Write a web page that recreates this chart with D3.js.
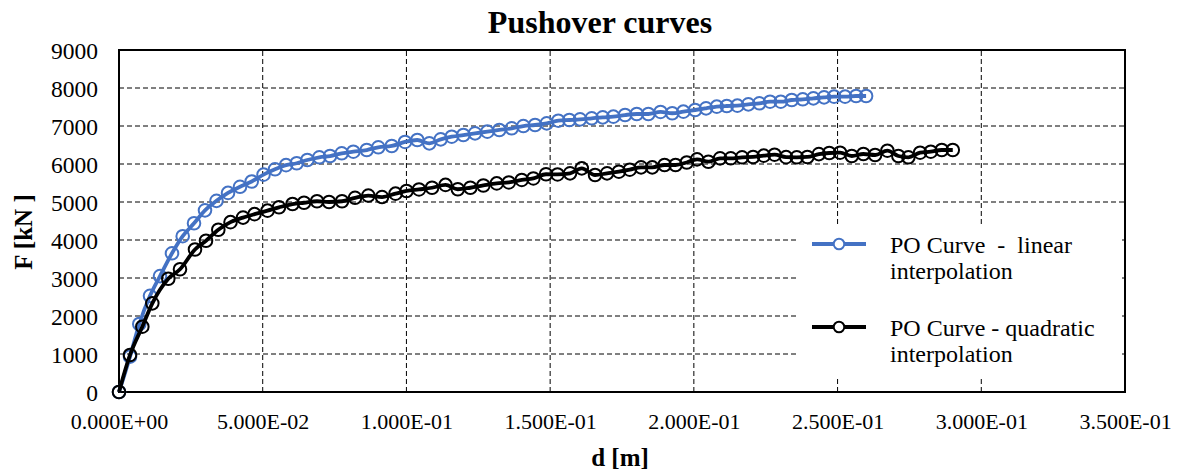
<!DOCTYPE html>
<html>
<head>
<meta charset="utf-8">
<script src="https://cdn.jsdelivr.net/npm/d3@7"></script>
<style>
  body { margin: 0; background: #fff; }
  text { font-family: "Liberation Serif", "Times New Roman", serif; fill: #000; }
</style>
</head>
<body>
<div id="chart"></div>
<script>
// displacement d [m] and force F [kN]
var linearD = [0, 0.00383, 0.00706, 0.01079, 0.01427, 0.01844, 0.02216, 0.02610, 0.02992, 0.03392,
  0.03793, 0.04210, 0.04617, 0.05028, 0.05428, 0.05811, 0.06183, 0.06552, 0.06969, 0.07342,
  0.07749, 0.08152, 0.08619, 0.09022, 0.09489, 0.09951, 0.10379, 0.10797, 0.11193, 0.11576,
  0.11980, 0.12387, 0.12815, 0.13232, 0.13664, 0.14068, 0.14475, 0.14882, 0.15285, 0.15668,
  0.16040, 0.16447, 0.16830, 0.17199, 0.17606, 0.18013, 0.18417, 0.18841, 0.19248, 0.19635,
  0.20042, 0.20424, 0.20797, 0.21145, 0.21514, 0.21896, 0.22279, 0.22651, 0.23024, 0.23406,
  0.23789, 0.24158, 0.24530, 0.24878, 0.25261, 0.25644, 0.25992];
var linearF = [0, 930, 1790, 2530, 3050, 3650, 4100, 4440, 4780, 5030,
  5240, 5400, 5540, 5720, 5860, 5970, 6020, 6105, 6176, 6210,
  6281, 6324, 6368, 6439, 6474, 6580, 6632, 6544, 6649, 6719,
  6763, 6807, 6851, 6895, 6939, 6999, 7026, 7070, 7140, 7158,
  7175, 7202, 7228, 7246, 7289, 7316, 7316, 7370, 7335, 7377,
  7421, 7465, 7509, 7526, 7535, 7570, 7597, 7640, 7640, 7684,
  7702, 7728, 7754, 7772, 7772, 7789, 7789];

var quadD = [0, 0.00383, 0.00811, 0.01159, 0.01715, 0.02122, 0.02644, 0.03027, 0.03455, 0.03880,
  0.04315, 0.04715, 0.05167, 0.05567, 0.06037, 0.06437, 0.06889, 0.07307, 0.07759, 0.08212,
  0.08674, 0.09151, 0.09621, 0.10004, 0.10438, 0.10891, 0.11360, 0.11788, 0.12223, 0.12676,
  0.13142, 0.13563, 0.14012, 0.14416, 0.14857, 0.15257, 0.15692, 0.16100, 0.16562, 0.16980,
  0.17391, 0.17770, 0.18163, 0.18553, 0.18981, 0.19363, 0.19753, 0.20111, 0.20505, 0.20912,
  0.21284, 0.21677, 0.22060, 0.22432, 0.22808, 0.23208, 0.23580, 0.23949, 0.24349, 0.24711,
  0.25087, 0.25494, 0.25898, 0.26305, 0.26733, 0.27115, 0.27463, 0.27871, 0.28243, 0.28626,
  0.29008];
var quadF = [0, 974, 1719, 2333, 2980, 3230, 3750, 3980, 4270, 4470,
  4590, 4680, 4772, 4860, 4947, 4980, 5020, 5000, 5020, 5110,
  5170, 5130, 5220, 5290, 5330, 5375, 5450, 5335, 5375, 5435,
  5490, 5515, 5580, 5620, 5730, 5725, 5754, 5886, 5711, 5754,
  5798, 5850, 5912, 5912, 5974, 5974, 6040, 6123, 6060, 6149,
  6150, 6176, 6185, 6220, 6245, 6180, 6176, 6185, 6260, 6290,
  6298, 6210, 6263, 6237, 6350, 6210, 6176, 6298, 6324, 6368,
  6368];

var xTicks = [0, 0.05, 0.1, 0.15, 0.2, 0.25, 0.3, 0.35];
var xTickLabels = ["0.000E+00", "5.000E-02", "1.000E-01", "1.500E-01", "2.000E-01", "2.500E-01", "3.000E-01", "3.500E-01"];
var yTicks = [0, 1000, 2000, 3000, 4000, 5000, 6000, 7000, 8000, 9000];
var seriesNames = [["PO Curve  -  linear", "interpolation"], ["PO Curve - quadratic", "interpolation"]];
var seriesColors = ["#4472C4", "#000000"];

var width = 1177, height = 470;
var margin = {left: 119, top: 50, right: 52, bottom: 78};

var svg = d3.select("#chart").append("svg")
  .attr("width", width)
  .attr("height", height);

var xScale = d3.scaleLinear().domain([0, 0.35]).range([margin.left, width - margin.right]);
var yScale = d3.scaleLinear().domain([0, 9000]).range([height - margin.bottom, margin.top]);

// gridlines
svg.append("g")
  .selectAll("line")
  .data(yTicks.slice(1, -1))
  .enter().append("line")
  .attr("x1", xScale(0)).attr("x2", xScale(0.35))
  .attr("y1", d => yScale(d)).attr("y2", d => yScale(d))
  .attr("stroke", "#000").attr("stroke-width", 1).attr("stroke-dasharray", "5,3");

svg.append("g")
  .selectAll("line")
  .data(xTicks.slice(1, -1))
  .enter().append("line")
  .attr("x1", d => xScale(d)).attr("x2", d => xScale(d))
  .attr("y1", yScale(0)).attr("y2", yScale(9000))
  .attr("stroke", "#000").attr("stroke-width", 1).attr("stroke-dasharray", "5,3");

// axes
var xAxis = d3.axisBottom(xScale).tickValues(xTicks).tickSize(0).tickPadding(0)
  .tickFormat((d, i) => xTickLabels[i]);
var yAxis = d3.axisLeft(yScale).tickValues(yTicks).tickSize(0).tickPadding(0)
  .tickFormat(d3.format("d"));

var gx = svg.append("g")
  .attr("transform", `translate(0, ${yScale(0)})`)
  .call(xAxis);
gx.select(".domain").remove();
gx.selectAll("text")
  .attr("dy", null)
  .attr("y", 37)
  .style("font-family", '"Liberation Serif", serif')
  .style("font-size", "22px");

var gy = svg.append("g")
  .attr("transform", `translate(${margin.left - 21}, 0)`)
  .call(yAxis);
gy.select(".domain").remove();
gy.selectAll("text")
  .attr("dy", "0.34em")
  .style("font-family", '"Liberation Serif", serif')
  .style("font-size", "23.5px");

// frame
svg.append("rect")
  .attr("x", xScale(0)).attr("y", yScale(9000))
  .attr("width", xScale(0.35) - xScale(0))
  .attr("height", yScale(0) - yScale(9000))
  .attr("fill", "none").attr("stroke", "#000").attr("stroke-width", 2);

// series
var line = d3.line()
  .x(d => xScale(d[0]))
  .y(d => yScale(d[1]))
  .curve(d3.curveMonotoneX);

var series = [d3.zip(linearD, linearF), d3.zip(quadD, quadF)];

series.forEach(function(data, i) {
  svg.append("path")
    .datum(data)
    .attr("d", line)
    .attr("fill", "none")
    .attr("stroke", seriesColors[i])
    .attr("stroke-width", 3.8);
  svg.append("g")
    .selectAll("circle")
    .data(data)
    .enter().append("circle")
    .attr("cx", d => xScale(d[0]))
    .attr("cy", d => yScale(d[1]))
    .attr("r", 6.3)
    .attr("fill", "none")
    .attr("stroke", seriesColors[i])
    .attr("stroke-width", 2);
});

// legend
var legend = svg.append("g");
legend.append("rect")
  .attr("x", 796).attr("y", 224)
  .attr("width", 326).attr("height", 152)
  .attr("fill", "#fff");

var legendY = [244, 327];
seriesNames.forEach(function(name, i) {
  var g = legend.append("g").attr("transform", `translate(0, ${legendY[i]})`);
  g.append("line")
    .attr("x1", 812).attr("x2", 866)
    .attr("stroke", seriesColors[i]).attr("stroke-width", 3.8);
  g.append("circle")
    .attr("cx", 839).attr("r", 5.3)
    .attr("fill", "#fff")
    .attr("stroke", seriesColors[i]).attr("stroke-width", 2);
  g.append("text")
    .attr("x", 890).attr("y", 9)
    .style("font-size", "24px")
    .style("white-space", "pre")
    .text(name[0]);
  g.append("text")
    .attr("x", 890).attr("y", 35)
    .style("font-size", "24px")
    .text(name[1]);
});

// titles
svg.append("text")
  .attr("x", 600).attr("y", 33)
  .attr("text-anchor", "middle")
  .style("font-size", "32px").style("font-weight", "bold")
  .text("Pushover curves");

svg.append("text")
  .attr("x", 620).attr("y", 466)
  .attr("text-anchor", "middle")
  .style("font-size", "25px").style("font-weight", "bold")
  .text("d [m]");

svg.append("text")
  .attr("transform", "rotate(-90)")
  .attr("x", -232).attr("y", 32)
  .attr("text-anchor", "middle")
  .style("font-size", "25px").style("font-weight", "bold")
  .text("F [kN ]");
</script>
</body>
</html>
